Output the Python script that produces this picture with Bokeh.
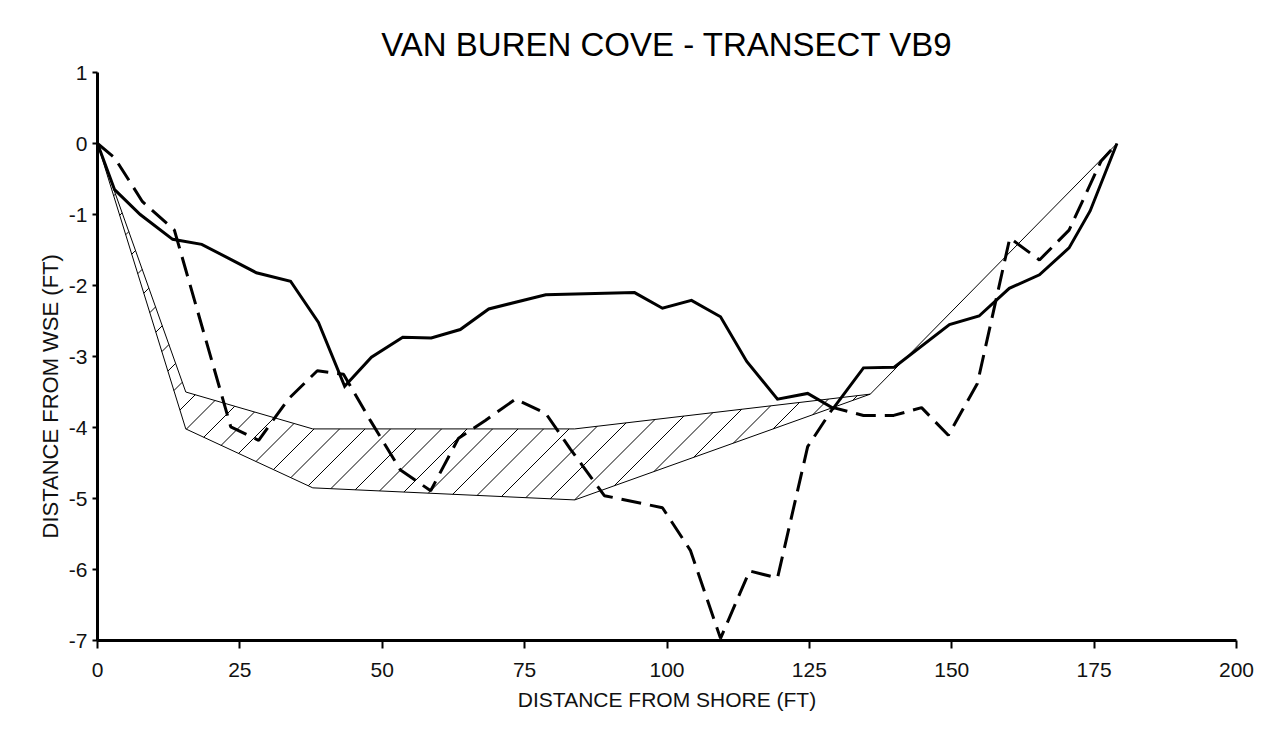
from bokeh.plotting import figure
from bokeh.models import Range1d, FixedTicker, Title
from bokeh.embed import file_html
from bokeh.resources import INLINE

# Survey profile A (solid)
solid_x = [0, 3, 7.5, 13.2, 18.3, 27.9, 33.9, 38.8, 43.4, 48.1, 53.6, 58.6, 63.7, 68.7,
           78.7, 94.3, 99.2, 104.3, 109.4, 114, 119.4, 124.7, 129.2, 134.5, 139.9, 149.6,
           154.8, 160.1, 165.4, 170.6, 174.3, 179]
solid_y = [0, -0.65, -1.0, -1.35, -1.42, -1.82, -1.94, -2.52, -3.42, -3.01, -2.73, -2.74,
           -2.62, -2.33, -2.13, -2.1, -2.32, -2.21, -2.44, -3.07, -3.6, -3.52, -3.73, -3.16,
           -3.15, -2.55, -2.43, -2.04, -1.85, -1.47, -0.95, 0]

# Survey profile B (dashed)
dash_x = [0, 3, 7.9, 13.5, 23.4, 28.3, 33.5, 38.6, 43.2, 47.9, 53.2, 58.5, 63.4, 68.1,
          73.4, 78.7, 83, 89, 99.2, 104.1, 109.4, 114.5, 119.4, 124.7, 129.2, 134.5,
          139.8, 144.7, 149.4, 154.5, 160.2, 165.4, 170.6, 176.2, 179]
dash_y = [0, -0.2, -0.82, -1.22, -3.99, -4.18, -3.6, -3.2, -3.25, -3.9, -4.6, -4.89, -4.15,
          -3.9, -3.6, -3.8, -4.3, -4.96, -5.13, -5.73, -6.97, -6.02, -6.12, -4.27, -3.72,
          -3.83, -3.83, -3.72, -4.11, -3.38, -1.33, -1.64, -1.22, -0.25, 0]

# Design channel (hatched)
chan_top_x = [0, 15.5, 37.8, 83.8, 135.7]
chan_top_y = [0, -3.5, -4.02, -4.02, -3.53]
chan_bot_x = [135.7, 83.8, 37.8, 15.5, 0]
chan_bot_y = [-3.53, -5.02, -4.85, -4.02, 0]
chan_end_x = [135.7, 179]
chan_end_y = [-3.53, 0]

x_ticks = [0, 25, 50, 75, 100, 125, 150, 175, 200]
y_ticks = [1, 0, -1, -2, -3, -4, -5, -6, -7]
y_tick_labels = ["1", "0", "-1", "-2", "-3", "-4", "-5", "-6", "-7"]

FONT = "Liberation Sans"
W, H = 1273, 730
BL, BR, BT, BB = 97, 37, 72, 90
X0, X1, Y0, Y1 = 0, 200, -7, 1

p = figure(width=W, height=H, output_backend="svg", toolbar_location=None,
           x_range=Range1d(X0, X1), y_range=Range1d(Y0, Y1),
           min_border_left=BL, min_border_right=BR, min_border_top=BT, min_border_bottom=BB)
p.outline_line_color = None
p.grid.visible = False
p.background_fill_color = "white"

p.title.text = "VAN BUREN COVE - TRANSECT VB9"
p.title.text_font = FONT
p.title.text_font_size = "33px"
p.title.text_font_style = "normal"
p.title.align = "center"
p.title.text_color = "black"
p.title.standoff = 20

# --- hatch lines at 45 degrees on screen, clipped to the channel polygon ---
poly_x = chan_top_x + chan_bot_x[1:]
poly_y = chan_top_y + chan_bot_y[1:]
sx = (W - BL - BR) / (X1 - X0)   # px per ft (x)
sy = (H - BT - BB) / (Y1 - Y0)   # px per ft (y)
pu = [x * sx for x in poly_x]
pv = [y * sy for y in poly_y]
n = len(pu)
spacing = 25.5
phase = 604.0
cvals = [u - v for u, v in zip(pu, pv)]
cmin, cmax = min(cvals), max(cvals)
k0 = int((cmin - phase) // spacing) - 1
k1 = int((cmax - phase) // spacing) + 2
hx, hy = [], []
for k in range(k0, k1):
    c = phase + k * spacing
    ts = []
    for i in range(n):
        u1, v1 = pu[i], pv[i]
        u2, v2 = pu[(i + 1) % n], pv[(i + 1) % n]
        f1, f2 = u1 - v1 - c, u2 - v2 - c
        if (f1 > 0) != (f2 > 0):
            t = f1 / (f1 - f2)
            ts.append(u1 + t * (u2 - u1))
    ts.sort()
    for j in range(0, len(ts) - 1, 2):
        ua, ub = ts[j], ts[j + 1]
        hx.append([ua / sx, ub / sx])
        hy.append([(ua - c) / sy, (ub - c) / sy])
p.multi_line(hx, hy, line_color="black", line_width=1)

p.patch(poly_x, poly_y, fill_color=None, line_color="black", line_width=1)
p.line(chan_end_x, chan_end_y, line_color="black", line_width=1)

p.line(solid_x, solid_y, line_color="black", line_width=3, line_join="miter")
p.line(dash_x, dash_y, line_color="black", line_width=3, line_dash="20 9")

for ax in (p.xaxis[0], p.yaxis[0]):
    ax.axis_line_width = 3
    ax.axis_line_color = "black"
    ax.major_tick_line_width = 2
    ax.major_tick_line_color = "black"
    ax.minor_tick_line_color = None
    ax.major_tick_in = 0
    ax.major_label_text_font = FONT
    ax.major_label_text_font_size = "21px"
    ax.major_label_text_color = "#111111"

p.xaxis[0].ticker = FixedTicker(ticks=x_ticks)
p.yaxis[0].ticker = FixedTicker(ticks=y_ticks)
p.yaxis[0].major_label_overrides = {t: s for t, s in zip(y_ticks, y_tick_labels)}
p.xaxis[0].major_tick_out = 8
p.yaxis[0].major_tick_out = 5
p.xaxis[0].major_label_standoff = 14
p.yaxis[0].major_label_standoff = 5

p.xaxis[0].axis_label = "DISTANCE FROM SHORE (FT)"
p.xaxis[0].axis_label_text_font = FONT
p.xaxis[0].axis_label_text_font_size = "21px"
p.xaxis[0].axis_label_text_font_style = "normal"
p.xaxis[0].axis_label_text_color = "#111111"
p.xaxis[0].axis_label_standoff = 8

ylab = Title(text="DISTANCE FROM WSE (FT)", align="left", offset=102,
             text_font=FONT, text_font_size="22px", text_font_style="normal",
             text_color="#111111", standoff=5)
p.add_layout(ylab, "left")

open("out.html", "w").write(file_html(p, INLINE))
